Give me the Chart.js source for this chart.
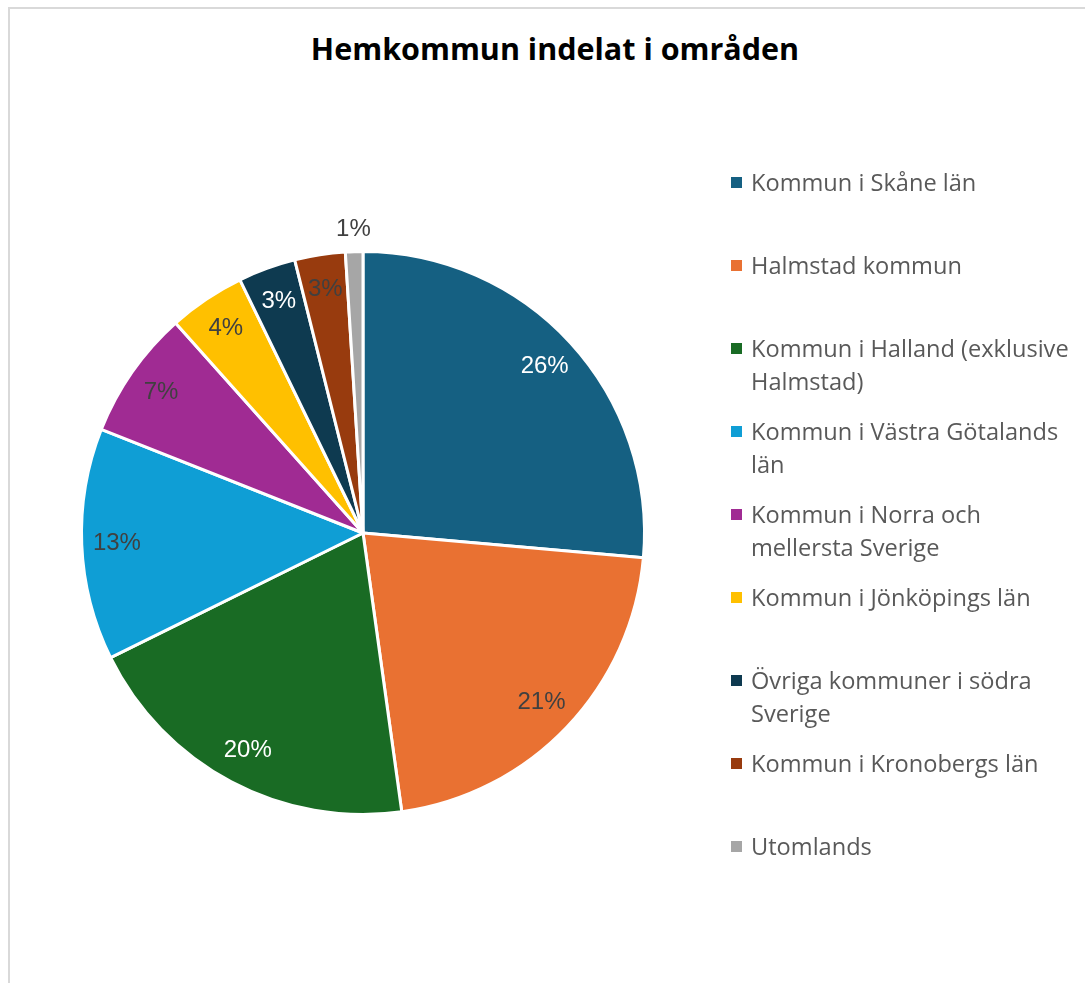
<!DOCTYPE html>
<html lang="sv">
<head>
<meta charset="utf-8">
<title>Hemkommun indelat i områden</title>
<script src="https://cdn.jsdelivr.net/npm/chart.js@4.4.1/dist/chart.umd.min.js"></script>
<style>
  html, body { margin: 0; padding: 0; background: #fff; }
  body { width: 1085px; height: 983px; position: relative; overflow: hidden; }
  #ram { position: absolute; left: 8px; top: 7px; width: 1200px; height: 1100px;
         border-top: 2px solid #d9d9d9; border-left: 2px solid #d9d9d9; }
  #rubrik { position: absolute; left: 8px; width: 1094px; top: 27px; text-align: center;
            font-family: "Open Sans", sans-serif; font-weight: bold; font-size: 30.5px; color: #000; }
  #diagram { position: absolute; left: 0; top: 0; }
  #legend { position: absolute; left: 0; top: 0; }
  .post { position: absolute; left: 729px; width: 400px; font-family: "Open Sans", sans-serif;
          font-size: 23.6px; line-height: 33px; color: #595959; white-space: nowrap; }
  .ruta { position: absolute; left: 2px; top: 11px; width: 11px; height: 11px; }
  .text { margin-left: 22px; }
</style>
</head>
<body>
<div id="ram"></div>
<div id="rubrik">Hemkommun indelat i områden</div>
<canvas id="diagram" width="1085" height="983"></canvas>
<div id="legend"></div>
<script>
// Data
var omraden = [
    'Kommun i Skåne län',
    'Halmstad kommun',
    'Kommun i Halland (exklusive Halmstad)',
    'Kommun i Västra Götalands län',
    'Kommun i Norra och mellersta Sverige',
    'Kommun i Jönköpings län',
    'Övriga kommuner i södra Sverige',
    'Kommun i Kronobergs län',
    'Utomlands'
];
// radbrytningar i förklaringen, som i originalet
var legendRader = [
    ['Kommun i Skåne län'],
    ['Halmstad kommun'],
    ['Kommun i Halland (exklusive', 'Halmstad)'],
    ['Kommun i Västra Götalands', 'län'],
    ['Kommun i Norra och', 'mellersta Sverige'],
    ['Kommun i Jönköpings län'],
    ['Övriga kommuner i södra', 'Sverige'],
    ['Kommun i Kronobergs län'],
    ['Utomlands']
];
var andelar = [26.4, 21.4, 19.9, 13.3, 7.4, 4.4, 3.3, 2.9, 1.0];
var farger = ['#156082', '#e97132', '#196b24', '#0f9ed5', '#a02b93', '#ffc000', '#0e3a50', '#983b0e', '#a6a6a6'];
var etikettFarger = ['#ffffff', '#404040', '#ffffff', '#404040', '#404040', '#404040', '#ffffff', '#404040', '#404040'];

// Plugin för procentetiketter
var procentEtiketter = {
    id: 'procentEtiketter',
    afterDatasetsDraw: function(chart) {
        var ctx = chart.ctx;
        var meta = chart.getDatasetMeta(0);
        var total = andelar.reduce(function(a, b) { return a + b; }, 0);
        ctx.save();
        ctx.font = '24px "Liberation Sans", Arial, sans-serif';
        ctx.textAlign = 'center';
        ctx.textBaseline = 'middle';
        meta.data.forEach(function(arc, i) {
            var p = arc.getProps(['x', 'y', 'startAngle', 'endAngle', 'outerRadius'], true);
            var mitt = (p.startAngle + p.endAngle) / 2;
            var andel = andelar[i] / total * 100;
            // små andelar hamnar utanför cirkeln
            var r = andel < 2 ? p.outerRadius + 22 : p.outerRadius * 0.875;
            ctx.fillStyle = etikettFarger[i];
            ctx.fillText(Math.round(andel) + '%', p.x + Math.cos(mitt) * r, p.y + Math.sin(mitt) * r);
        });
        ctx.restore();
    }
};

new Chart(document.getElementById('diagram'), {
    type: 'pie',
    data: {
        labels: omraden,
        datasets: [{
            data: andelar,
            backgroundColor: farger,
            borderColor: '#ffffff',
            borderWidth: 3
        }]
    },
    options: {
        responsive: false,
        animation: false,
        layout: { padding: { left: 80, right: 439, top: 250, bottom: 167 } },
        plugins: {
            legend: { display: false },
            tooltip: { enabled: false }
        }
    },
    plugins: [procentEtiketter]
});

// Förklaring (HTML)
var legend = document.getElementById('legend');
legendRader.forEach(function(rader, i) {
    var post = document.createElement('div');
    post.className = 'post';
    post.style.top = (183 - 17 + i * 83) + 'px';
    var ruta = document.createElement('div');
    ruta.className = 'ruta';
    ruta.style.background = farger[i];
    post.appendChild(ruta);
    rader.forEach(function(rad) {
        var t = document.createElement('div');
        t.className = 'text';
        t.textContent = rad;
        post.appendChild(t);
    });
    legend.appendChild(post);
});
</script>
</body>
</html>
